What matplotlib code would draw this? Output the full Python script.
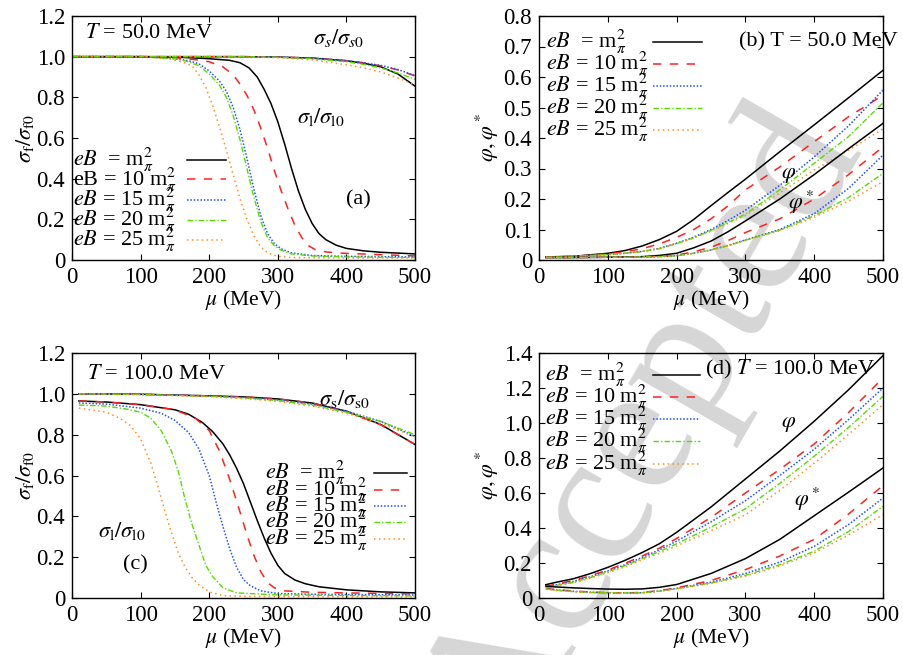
import matplotlib
matplotlib.use("Agg")
import matplotlib.pyplot as plt
import numpy as np

plt.rcParams['font.family'] = ['Liberation Serif', 'DejaVu Serif']
plt.rcParams['mathtext.fontset'] = 'stix'
plt.rcParams['font.size'] = 15

# ---------------- Data ----------------
labels = [r'$eB$  = m$^2_\pi$', r'$eB$ = 10 m$^2_\pi$', r'$eB$ = 15 m$^2_\pi$',
          r'$eB$ = 20 m$^2_\pi$', r'$eB$ = 25 m$^2_\pi$']
labels_a = [r'$eB$  = m$^2_\pi$', r'eB = 10 m$^2_\pi$', r'$eB$ = 15 m$^2_\pi$',
            r'$eB$ = 20 m$^2_\pi$', r'$eB$ = 25 m$^2_\pi$']

# Panel (a): T = 50 MeV, sigma_l / sigma_l0
mu_a_l1 = [0, 50, 100, 150, 200, 230, 245, 258, 270, 280, 290, 300, 310, 320, 330, 340, 350, 360, 370, 385, 400, 425, 450, 500]
sl_a_1 = [1.0, 1.0, 1.0, 0.998, 0.99, 0.982, 0.97, 0.945, 0.9, 0.84, 0.77, 0.68, 0.57, 0.45, 0.34, 0.25, 0.18, 0.13, 0.1, 0.073, 0.057, 0.045, 0.038, 0.03]
mu_a_l10 = [0, 100, 150, 180, 200, 220, 235, 245, 255, 265, 275, 285, 295, 305, 315, 325, 335, 345, 355, 370, 390, 420, 500]
sl_a_10 = [1.0, 1.0, 0.995, 0.985, 0.975, 0.95, 0.91, 0.865, 0.81, 0.74, 0.65, 0.55, 0.44, 0.34, 0.25, 0.17, 0.11, 0.07, 0.05, 0.04, 0.034, 0.03, 0.02]
mu_a_l15 = [0, 100, 150, 170, 185, 200, 215, 225, 235, 245, 255, 265, 275, 285, 295, 305, 320, 350, 400, 500]
sl_a_15 = [1.0, 1.0, 0.99, 0.98, 0.965, 0.93, 0.88, 0.83, 0.75, 0.64, 0.5, 0.35, 0.22, 0.13, 0.08, 0.055, 0.035, 0.022, 0.018, 0.015]
sl_a_20 = [1.0, 1.0, 0.99, 0.975, 0.955, 0.915, 0.86, 0.8, 0.71, 0.59, 0.45, 0.31, 0.19, 0.11, 0.07, 0.048, 0.03, 0.02, 0.015, 0.012]
mu_a_l25 = [0, 100, 140, 160, 175, 185, 195, 205, 215, 225, 235, 245, 255, 265, 275, 285, 300, 320, 400, 500]
sl_a_25 = [1.0, 1.0, 0.99, 0.975, 0.955, 0.91, 0.85, 0.76, 0.655, 0.54, 0.42, 0.3, 0.2, 0.12, 0.065, 0.035, 0.018, 0.012, 0.01, 0.01]

# Panel (a): sigma_s / sigma_s0
mu_s = [0, 100, 200, 250, 300, 350, 400, 425, 450, 475, 500]
ss_a_1 = [1.0, 1.0, 1.0, 1.0, 0.998, 0.993, 0.98, 0.968, 0.95, 0.915, 0.855]
ss_a_10 = [1.0, 1.0, 1.0, 1.0, 0.998, 0.993, 0.98, 0.97, 0.955, 0.935, 0.905]
ss_a_15 = [1.0, 1.0, 1.0, 1.0, 0.998, 0.993, 0.98, 0.97, 0.957, 0.937, 0.907]
ss_a_20 = [1.0, 1.0, 1.0, 1.0, 0.997, 0.99, 0.975, 0.962, 0.945, 0.92, 0.888]
ss_a_25 = [1.0, 1.0, 1.0, 0.999, 0.995, 0.985, 0.96, 0.945, 0.925, 0.895, 0.86]

# Panel (b): T = 50 MeV, phi and phi*
mu_b = [10, 50, 100, 125, 150, 175, 200, 225, 250, 275, 300, 350, 400, 450, 500]
phi_b_1 = [0.01, 0.012, 0.022, 0.031, 0.046, 0.067, 0.094, 0.133, 0.178, 0.222, 0.265, 0.355, 0.443, 0.532, 0.622]
phi_b_10 = [0.01, 0.012, 0.02, 0.027, 0.037, 0.053, 0.074, 0.1, 0.135, 0.178, 0.23, 0.305, 0.388, 0.47, 0.54]
phi_b_15 = [0.01, 0.012, 0.018, 0.022, 0.028, 0.038, 0.055, 0.075, 0.1, 0.13, 0.163, 0.245, 0.338, 0.44, 0.557]
phi_b_20 = [0.01, 0.012, 0.018, 0.022, 0.028, 0.037, 0.054, 0.073, 0.097, 0.123, 0.15, 0.23, 0.317, 0.405, 0.515]
phi_b_25 = [0.01, 0.012, 0.018, 0.022, 0.028, 0.037, 0.053, 0.072, 0.095, 0.12, 0.146, 0.22, 0.295, 0.36, 0.43]
phis_b_1 = [0.008, 0.008, 0.009, 0.01, 0.011, 0.015, 0.022, 0.04, 0.062, 0.093, 0.128, 0.2, 0.28, 0.365, 0.448]
phis_b_10 = [0.008, 0.008, 0.009, 0.009, 0.01, 0.012, 0.016, 0.027, 0.042, 0.064, 0.09, 0.135, 0.2, 0.28, 0.371]
phis_b_15 = [0.008, 0.008, 0.009, 0.009, 0.01, 0.011, 0.014, 0.022, 0.033, 0.048, 0.066, 0.1, 0.152, 0.235, 0.344]
phis_b_20 = [0.008, 0.008, 0.009, 0.009, 0.01, 0.011, 0.014, 0.022, 0.033, 0.047, 0.065, 0.098, 0.145, 0.205, 0.284]
phis_b_25 = [0.008, 0.008, 0.009, 0.009, 0.01, 0.011, 0.014, 0.022, 0.033, 0.047, 0.064, 0.096, 0.14, 0.193, 0.257]

# Panel (c): T = 100 MeV, sigma_l / sigma_l0
mu_c_l1 = [10, 50, 100, 150, 170, 190, 205, 220, 230, 240, 250, 260, 270, 280, 290, 300, 310, 325, 340, 360, 400, 450, 500]
sl_c_1 = [0.965, 0.96, 0.947, 0.922, 0.9, 0.86, 0.815, 0.755, 0.7, 0.635, 0.56, 0.47, 0.38, 0.295, 0.22, 0.16, 0.12, 0.088, 0.07, 0.055, 0.04, 0.03, 0.025]
mu_c_l10 = [10, 50, 100, 150, 180, 200, 215, 230, 245, 255, 265, 275, 285, 295, 310, 350, 400, 500]
sl_c_10 = [0.965, 0.96, 0.947, 0.922, 0.88, 0.82, 0.72, 0.58, 0.42, 0.31, 0.21, 0.13, 0.075, 0.05, 0.035, 0.028, 0.025, 0.02]
mu_c_l15 = [10, 50, 100, 130, 150, 170, 185, 200, 210, 220, 230, 240, 250, 260, 275, 300, 350, 500]
sl_c_15 = [0.955, 0.95, 0.93, 0.905, 0.87, 0.81, 0.73, 0.6, 0.47, 0.35, 0.24, 0.15, 0.09, 0.06, 0.035, 0.022, 0.018, 0.015]
mu_c_l20 = [10, 50, 80, 100, 115, 130, 145, 155, 165, 175, 185, 195, 205, 220, 240, 300, 500]
sl_c_20 = [0.945, 0.94, 0.925, 0.91, 0.88, 0.82, 0.72, 0.62, 0.48, 0.36, 0.26, 0.16, 0.105, 0.05, 0.025, 0.015, 0.01]
mu_c_l25 = [10, 50, 70, 85, 100, 115, 125, 135, 145, 155, 165, 175, 185, 200, 220, 250, 500]
sl_c_25 = [0.93, 0.91, 0.88, 0.845, 0.78, 0.66, 0.55, 0.43, 0.32, 0.22, 0.15, 0.1, 0.065, 0.03, 0.012, 0.008, 0.005]

# Panel (c): sigma_s / sigma_s0
mu_s_c = [10, 100, 200, 250, 300, 350, 400, 450, 500]
ss_c_1 = [1.0, 0.998, 0.99, 0.985, 0.975, 0.955, 0.915, 0.85, 0.752]
ss_c_10 = [1.0, 0.998, 0.99, 0.985, 0.975, 0.955, 0.913, 0.848, 0.752]
ss_c_15 = [1.0, 0.997, 0.99, 0.983, 0.97, 0.95, 0.915, 0.865, 0.792]
ss_c_20 = [1.0, 0.997, 0.988, 0.98, 0.967, 0.945, 0.91, 0.865, 0.80]
ss_c_25 = [1.0, 0.996, 0.986, 0.977, 0.963, 0.94, 0.905, 0.855, 0.79]

# Panel (d): T = 100 MeV, phi and phi*
mu_d = [10, 25, 50, 75, 100, 125, 150, 175, 200, 250, 300, 350, 400, 450, 500]
phi_d_1 = [0.076, 0.09, 0.11, 0.14, 0.175, 0.215, 0.26, 0.31, 0.375, 0.52, 0.68, 0.84, 1.01, 1.19, 1.385]
phi_d_10 = [0.065, 0.08, 0.1, 0.128, 0.16, 0.198, 0.24, 0.285, 0.34, 0.46, 0.6, 0.735, 0.88, 1.06, 1.257]
phi_d_15 = [0.06, 0.075, 0.095, 0.122, 0.155, 0.19, 0.232, 0.275, 0.325, 0.435, 0.556, 0.7, 0.85, 1.02, 1.2]
phi_d_20 = [0.058, 0.072, 0.09, 0.117, 0.15, 0.185, 0.225, 0.265, 0.31, 0.405, 0.51, 0.655, 0.81, 0.975, 1.152]
phi_d_25 = [0.055, 0.07, 0.087, 0.113, 0.145, 0.178, 0.218, 0.255, 0.298, 0.385, 0.475, 0.615, 0.77, 0.935, 1.105]
phis_d_1 = [0.068, 0.063, 0.058, 0.054, 0.051, 0.05, 0.052, 0.061, 0.077, 0.14, 0.225, 0.335, 0.47, 0.605, 0.743]
phis_d_10 = [0.055, 0.048, 0.04, 0.034, 0.03, 0.029, 0.032, 0.042, 0.058, 0.1, 0.162, 0.24, 0.335, 0.48, 0.642]
phis_d_15 = [0.053, 0.046, 0.038, 0.033, 0.03, 0.029, 0.03, 0.04, 0.055, 0.09, 0.14, 0.205, 0.295, 0.42, 0.571]
phis_d_20 = [0.052, 0.045, 0.037, 0.032, 0.03, 0.029, 0.03, 0.039, 0.053, 0.086, 0.13, 0.19, 0.267, 0.38, 0.524]
phis_d_25 = [0.05, 0.043, 0.036, 0.031, 0.029, 0.028, 0.03, 0.038, 0.052, 0.083, 0.125, 0.183, 0.257, 0.36, 0.476]

# ---------------- Styles ----------------
colors = ['#000000', '#ff2020', '#2050ff', '#55dd00', '#ff9020']
styles = [dict(ls='-', lw=1.1),
          dict(ls=(0, (5.5, 5.5)), lw=1.1),
          dict(ls=(0, (1, 1.2)), lw=1.1),
          dict(ls=(0, (4, 1.5, 1, 1.5)), lw=1.0),
          dict(ls=(0, (1, 2.2)), lw=1.1)]

W, H = 904, 655
fig = plt.figure(figsize=(W / 100, H / 100), dpi=100)

def make_ax(x0, y0, x1, y1):
    ax = fig.add_axes([x0 / W, 1 - y1 / H, (x1 - x0) / W, (y1 - y0) / H])
    ax.set_facecolor('none')
    ax.tick_params(direction='in', top=True, right=True, length=4, width=0.8,
                   labelsize=16.5, pad=5)
    for s in ax.spines.values():
        s.set_linewidth(1.0)
    ax.set_xlim(0, 500)
    ax.set_xticks([0, 100, 200, 300, 400, 500])
    return ax

def fmt_ticks(ax, ticks, nd):
    ax.set_yticks(ticks)
    ax.set_yticklabels(['0' if t == 0 else f'{t:.{nd}f}' for t in ticks])

def legend(ax, labs, tx, ys, lx0, lx1, size=16):
    for i, (lab, y) in enumerate(zip(labs, ys)):
        ax.text(tx, y, lab, fontsize=size, va='center', ha='left')
        ax.plot([lx0, lx1], [y, y], color=colors[i], **styles[i])

ax_a = make_ax(72, 16, 415, 260)
ax_b = make_ax(539, 16, 883, 260)
ax_c = make_ax(72, 353, 415, 598)
ax_d = make_ax(539, 353, 883, 598)

XL = dict(fontsize=15.5, labelpad=0)

# ---- (a)
for i, (m, y) in enumerate([(mu_a_l1, sl_a_1), (mu_a_l10, sl_a_10), (mu_a_l15, sl_a_15),
                            (mu_a_l15, sl_a_20), (mu_a_l25, sl_a_25)]):
    ax_a.plot(m, y, color=colors[i], **styles[i])
for i, y in enumerate([ss_a_1, ss_a_10, ss_a_15, ss_a_20, ss_a_25]):
    ax_a.plot(mu_s, y, color=colors[i], **styles[i])
ax_a.set_ylim(0, 1.2)
fmt_ticks(ax_a, [0, 0.2, 0.4, 0.6, 0.8, 1.0, 1.2], 1)
ax_a.set_ylabel(r'$\sigma_{\rm f}/\sigma_{\rm f0}$', fontsize=16, labelpad=0)
ax_a.set_xlabel(r'$\mu$ (MeV)', **XL)
ax_a.text(19, 1.113, r'$T$ = 50.0 MeV', fontsize=16, va='center')
ax_a.text(352, 1.09, r'$\sigma_s/\sigma_{s0}$', fontsize=16, va='center')
ax_a.text(328, 0.704, r'$\sigma_{\rm l}/\sigma_{\rm l0}$', fontsize=16, va='center')
ax_a.text(400, 0.295, '(a)', fontsize=16, va='center')
legend(ax_a, labels_a, 2, [0.494, 0.396, 0.295, 0.196, 0.098], 167, 224)

# ---- (b)
for i, y in enumerate([phi_b_1, phi_b_10, phi_b_15, phi_b_20, phi_b_25]):
    ax_b.plot(mu_b, y, color=colors[i], **styles[i])
for i, y in enumerate([phis_b_1, phis_b_10, phis_b_15, phis_b_20, phis_b_25]):
    ax_b.plot(mu_b, y, color=colors[i], **styles[i])
ax_b.set_ylim(0, 0.8)
fmt_ticks(ax_b, [0, 0.1, 0.2, 0.3, 0.4, 0.5, 0.6, 0.7, 0.8], 1)
ax_b.set_ylabel(r'$\varphi,\varphi^*$', fontsize=16, labelpad=2)
ax_b.set_xlabel(r'$\mu$ (MeV)', **XL)
ax_b.text(290, 0.715, '(b) T = 50.0 MeV', fontsize=16, va='center', clip_on=False)
ax_b.text(352, 0.278, r'$\varphi$', fontsize=16, va='center')
ax_b.text(362, 0.19, r'$\varphi^*$', fontsize=16, va='center')
legend(ax_b, labels, 10, [0.715, 0.644, 0.570, 0.5, 0.426], 166, 237)

# ---- (c)
for i, (m, y) in enumerate([(mu_c_l1, sl_c_1), (mu_c_l10, sl_c_10), (mu_c_l15, sl_c_15),
                            (mu_c_l20, sl_c_20), (mu_c_l25, sl_c_25)]):
    ax_c.plot(m, y, color=colors[i], **styles[i])
for i, y in enumerate([ss_c_1, ss_c_10, ss_c_15, ss_c_20, ss_c_25]):
    ax_c.plot(mu_s_c, y, color=colors[i], **styles[i])
ax_c.set_ylim(0, 1.2)
fmt_ticks(ax_c, [0, 0.2, 0.4, 0.6, 0.8, 1.0, 1.2], 1)
ax_c.set_ylabel(r'$\sigma_{\rm f}/\sigma_{\rm f0}$', fontsize=16, labelpad=0)
ax_c.set_xlabel(r'$\mu$ (MeV)', **XL)
ax_c.text(22, 1.094, r'$T$ = 100.0 MeV', fontsize=16, va='center')
ax_c.text(360, 0.975, r'$\sigma_{\rm s}/\sigma_{\rm s0}$', fontsize=16, va='center')
ax_c.text(38, 0.327, r'$\sigma_{\rm l}/\sigma_{\rm l0}$', fontsize=16, va='center')
ax_c.text(75, 0.163, '(c)', fontsize=16, va='center')
legend(ax_c, labels, 281, [0.612, 0.531, 0.452, 0.372, 0.291], 440, 489)

# ---- (d)
for i, y in enumerate([phi_d_1, phi_d_10, phi_d_15, phi_d_20, phi_d_25]):
    ax_d.plot(mu_d, y, color=colors[i], **styles[i])
for i, y in enumerate([phis_d_1, phis_d_10, phis_d_15, phis_d_20, phis_d_25]):
    ax_d.plot(mu_d, y, color=colors[i], **styles[i])
ax_d.set_ylim(0, 1.4)
fmt_ticks(ax_d, [0, 0.2, 0.4, 0.6, 0.8, 1.0, 1.2, 1.4], 1)
ax_d.set_ylabel(r'$\varphi,\varphi^*$', fontsize=16, labelpad=2)
ax_d.set_xlabel(r'$\mu$ (MeV)', **XL)
ax_d.text(241, 1.305, r'(d) $T$ = 100.0 MeV', fontsize=16, va='center', clip_on=False)
ax_d.text(352, 0.99, r'$\varphi$', fontsize=16, va='center')
ax_d.text(370, 0.562, r'$\varphi^*$', fontsize=16, va='center')
legend(ax_d, labels, 8, [1.276, 1.149, 1.023, 0.895, 0.768], 165, 234)

# watermark
fig.text(0.715, 0.34, 'Accepted', fontsize=135, color='#d6d6d6', rotation=60,
         ha='center', va='center', family='Liberation Serif', zorder=-10)

fig.savefig('out.png', dpi=100)
